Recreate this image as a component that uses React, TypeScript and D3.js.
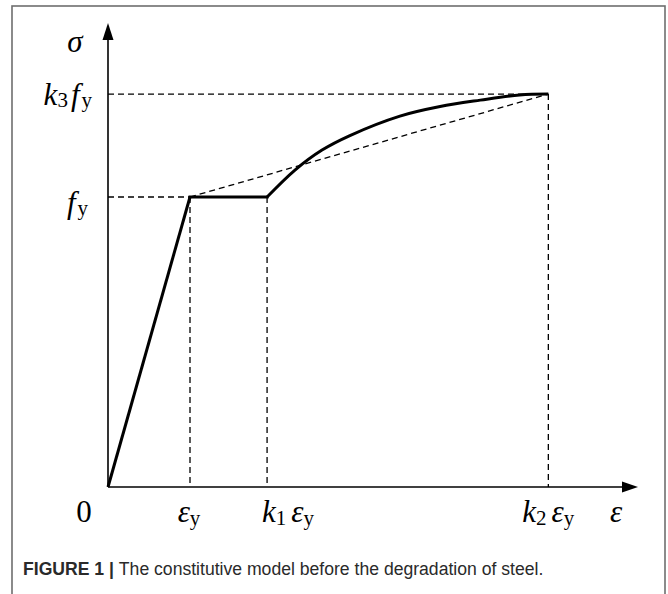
import React from "react";
import * as d3 from "d3";

// Strain values in units of εy
const strainMarks = [
  { key: "ey", value: 1.0 },
  { key: "k1", value: 1.94 },
  { key: "k2", value: 5.37 },
];
// Stress values in units of fy
const stressMarks = [
  { key: "fy", value: 1.0 },
  { key: "k3", value: 1.355 },
];
// Constitutive curve (strain / εy, stress / fy)
const elasticStrain = [0, 1.0];
const elasticStress = [0, 1.0];
const plateauStrain = [1.0, 1.94];
const plateauStress = [1.0, 1.0];
const hardeningStrain = [1.94, 2.28, 2.61, 2.95, 3.56, 4.05, 4.54, 5.02, 5.37];
const hardeningStress = [1.0, 1.093, 1.162, 1.212, 1.279, 1.312, 1.334, 1.352, 1.355];

const W = 668;
const H = 594;
const ox = 108;
const oy = 487;

const x = d3.scaleLinear().domain([0, 1]).range([ox, ox + 82]);
const y = d3.scaleLinear().domain([0, 1]).range([oy, oy - 290]);

const serif = "'Liberation Serif', 'Times New Roman', serif";

export default function App() {
  const line = d3
    .line<[number, number]>()
    .x((d) => x(d[0]))
    .y((d) => y(d[1]));
  const curve = d3
    .line<[number, number]>()
    .x((d) => x(d[0]))
    .y((d) => y(d[1]))
    .curve(d3.curveCatmullRom.alpha(0.5));

  const elastic = elasticStrain.map((s, i) => [s, elasticStress[i]] as [number, number]);
  const plateau = plateauStrain.map((s, i) => [s, plateauStress[i]] as [number, number]);
  const hardening = hardeningStrain.map((s, i) => [s, hardeningStress[i]] as [number, number]);

  const ey = strainMarks[0].value;
  const k1 = strainMarks[1].value;
  const k2 = strainMarks[2].value;
  const fy = stressMarks[0].value;
  const k3 = stressMarks[1].value;

  const dash = { stroke: "#000", strokeWidth: 1.3, strokeDasharray: "6,4", fill: "none" };

  const labelSize = 31;
  const subSize = 21;

  return (
    <svg
      width={W}
      height={H}
      style={{ position: "absolute", left: 0, top: 0, background: "#fff" }}
    >
      <rect x={0} y={0} width={W} height={H} fill="#fff" />
      <rect x={12} y={6} width={653} height={620} fill="none" stroke="#6e6e6e" strokeWidth={1.6} />

      {/* dashed guides */}
      <line x1={ox} y1={y(k3)} x2={x(k2)} y2={y(k3)} {...dash} />
      <line x1={ox} y1={y(fy)} x2={x(ey)} y2={y(fy)} {...dash} />
      <line x1={x(ey)} y1={y(fy)} x2={x(ey)} y2={oy} {...dash} />
      <line x1={x(k1)} y1={y(fy)} x2={x(k1)} y2={oy} {...dash} />
      <line x1={x(k2)} y1={y(k3)} x2={x(k2)} y2={oy} {...dash} />
      <line x1={x(ey)} y1={y(fy)} x2={x(k2)} y2={y(k3)} {...dash} />

      {/* axes */}
      <line x1={ox} y1={oy} x2={626} y2={oy} stroke="#000" strokeWidth={1.6} />
      <line x1={ox} y1={oy} x2={ox} y2={36} stroke="#000" strokeWidth={1.6} />
      <path d={`M638,${oy} L622,${oy - 5.5} L622,${oy + 5.5} Z`} fill="#000" />
      <path d={`M${ox},23 L${ox - 5.5},40 L${ox + 5.5},40 Z`} fill="#000" />

      {/* curve */}
      <path d={line(elastic) ?? ""} fill="none" stroke="#000" strokeWidth={3} strokeLinejoin="round" />
      <path d={line(plateau) ?? ""} fill="none" stroke="#000" strokeWidth={3} strokeLinecap="square" />
      <path d={curve(hardening) ?? ""} fill="none" stroke="#000" strokeWidth={3} />

      {/* y labels */}
      <g fontFamily={serif} fill="#000">
        <text x={75} y={52} fontSize={labelSize} fontStyle="italic" textAnchor="middle">σ</text>
        <text x={92} y={y(k3) + 11} fontSize={labelSize} textAnchor="end">
          <tspan fontStyle="italic">k</tspan>
          <tspan fontSize={subSize} dy={2}>3</tspan>
          <tspan fontStyle="italic" dy={-2} dx={3}>f</tspan>
          <tspan fontSize={subSize} dy={2} dx={2}>y</tspan>
        </text>
        <text x={88} y={y(fy) + 16} fontSize={labelSize} textAnchor="end">
          <tspan fontStyle="italic">f</tspan>
          <tspan fontSize={subSize} dy={2} dx={2}>y</tspan>
        </text>

        {/* x labels */}
        <text x={84} y={522} fontSize={labelSize} textAnchor="middle">0</text>
        <text x={x(ey) - 1} y={522} fontSize={labelSize} textAnchor="middle">
          <tspan fontStyle="italic">ε</tspan>
          <tspan fontSize={subSize} dy={3}>y</tspan>
        </text>
        <text x={x(k1) + 21} y={522} fontSize={labelSize} textAnchor="middle">
          <tspan fontStyle="italic">k</tspan>
          <tspan fontSize={subSize} dy={3}>1</tspan>
          <tspan fontStyle="italic" dy={-3} dx={5}>ε</tspan>
          <tspan fontSize={subSize} dy={3}>y</tspan>
        </text>
        <text x={x(k2)} y={522} fontSize={labelSize} textAnchor="middle">
          <tspan fontStyle="italic">k</tspan>
          <tspan fontSize={subSize} dy={3}>2</tspan>
          <tspan fontStyle="italic" dy={-3} dx={5}>ε</tspan>
          <tspan fontSize={subSize} dy={3}>y</tspan>
        </text>
        <text x={616} y={522} fontSize={labelSize} fontStyle="italic" textAnchor="middle">ε</text>
      </g>

      {/* caption */}
      <text x={23} y={575} fontFamily="'Liberation Sans', Arial, sans-serif" fontSize={17.6} fill="#2a2a2a">
        <tspan fontWeight="bold">FIGURE 1 | </tspan>
        <tspan>The constitutive model before the degradation of steel.</tspan>
      </text>
    </svg>
  );
}
